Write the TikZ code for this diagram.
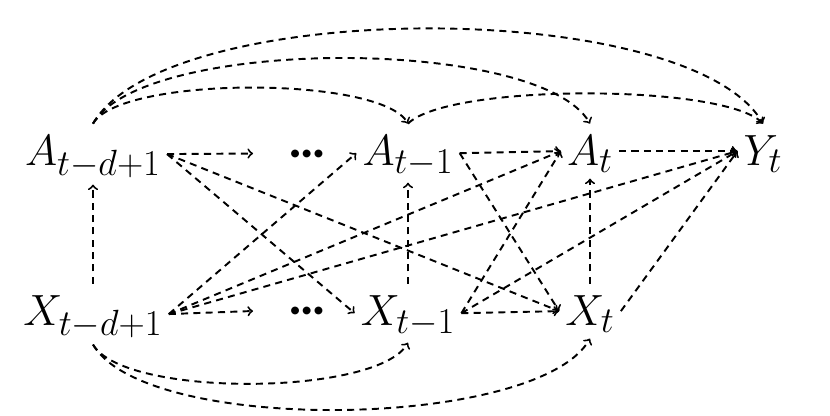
\documentclass[tikz,border=0pt]{standalone}
\usepackage{fontspec}
\newfontfamily\carlito{Carlito}
\usepackage{tikz}
\usetikzlibrary {positioning}

\begin{document}
\begin{tikzpicture}[>=to, line width=1.1pt, dash pattern=on 4pt off 3pt,
	font=\Huge,
	rv/.style={anchor=base, inner sep=3pt, text height=20pt},
	dotsnode/.style={inner xsep=19.5pt, inner ysep=0pt, font=\fontsize{30}{36}\selectfont\carlito\bfseries}]
	
	\useasboundingbox (0,0) rectangle (16.6,8.3);
	
	\node[rv] (A1) at (1.86,5.0) {$ A_{t-d+1} $};
	\node[dotsnode] (D1) at (6.14,5.23) {…};
	\node[rv] (A2) at (8.16,5.0) {$ A_{t-1} $};
	\node[rv] (A3) at (11.8,5.0) {$ A_t $};
	\node[rv] (Y) at (15.26,5.0) {$ Y_t $};
	
	\node[rv] (X1) at (1.86,1.8) {$ X_{t-d+1} $};
	\node[dotsnode] (D2) at (6.14,2.08) {…};
	\node[rv] (X2) at (8.16,1.8) {$ X_{t-1} $};
	\node[rv] (X3) at (11.8,1.8) {$ X_t $};
	
	
	
	\path [->] (A1.east) edge (D1.west);
	\path [->] (X1.east) edge (D2.west);
	\path [->] (X1.north) edge (A1.south);
	\path [->] (X2.north) edge (A2.south);
	\path [->] (X3.north) edge (A3.south);
	
	\path [->] (A1.east) edge (X2.west);
	\path [->] (A1.east) edge (X3.west);
	\path [->] (X1.east) edge (A2.west);
	\path [->] (X1.east) edge (A3.west);
	\path [->] (X1.east) edge (Y.west);
	
	\path [->] (A2.east) edge (A3.west);
	\path [->] (A2.east) edge (X3.west);
	\path [->] (X2.east) edge (X3.west);
	\path [->] (X2.east) edge (A3.west);
	\path [->] (X2.east) edge (Y.west);
	\path [->] (A3.east) edge (Y.west);
	\path [->] (X3.east) edge (Y.west);
	
	
	\path [->] (A1.north) edge[out=60,in=120,looseness=0.45] (A2.north);
	\path [->] (A1.north) edge[out=60,in=120,looseness=0.52] (A3.north);
	\path [->] (A1.north) edge[out=60,in=120,looseness=0.56] (Y.north);
	\path [->] (A2.north) edge[out=45,in=135,looseness=0.41] (Y.north);
	\path [->] (X1.south) edge[out=-60,in=-120,looseness=0.5] (X2.south);
	\path [->] (X1.south) edge[out=-60,in=-120,looseness=0.54] (X3.south);
	
	\end{tikzpicture}
\end{document}
